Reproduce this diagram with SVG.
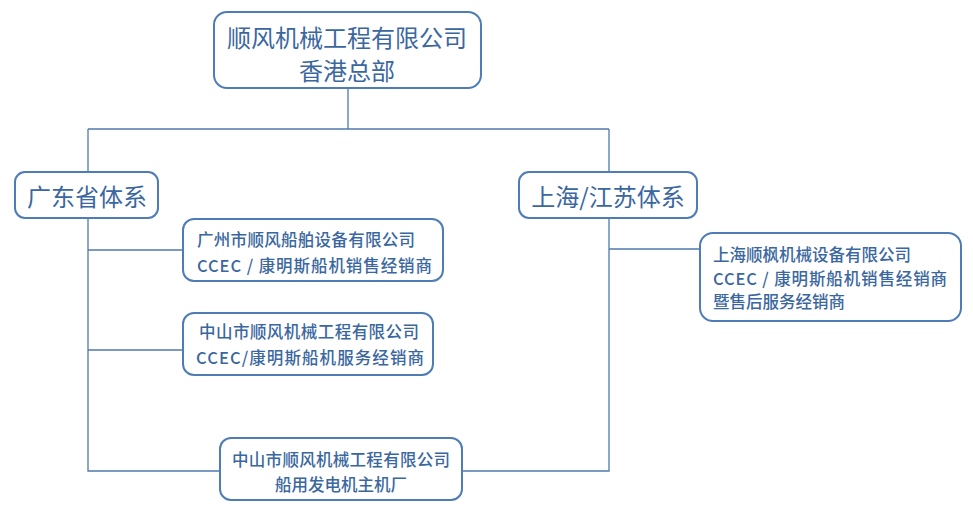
<svg xmlns="http://www.w3.org/2000/svg" width="973" height="514" viewBox="0 0 973 514">
<style>
.box{fill:#ffffff;stroke:#4e7cb6;stroke-width:2}
.ln{fill:none;stroke:#4f79ae;stroke-width:1.3}
text{font-family:"Noto Sans CJK SC","Microsoft YaHei",sans-serif;fill:#3a67a0;font-weight:500}
.big{font-size:24px;text-anchor:middle;font-weight:400}
.sm{font-size:16.5px}
</style>
<rect width="973" height="514" fill="#ffffff"/>
<g id="connectors">
<path class="ln" d="M348 88V129M88 129H609M88 129V172M88 218V471H220M609 129V172M609 218V471H462M88 250H183M88 350H183M609 249H700"/>
</g>
<g id="hq">
<rect class="box" x="214" y="12" width="267" height="76" rx="13"/>
<text class="big" x="347" y="47">顺风机械工程有限公司</text>
<text class="big" x="347" y="80">香港总部</text>
</g>
<g id="guangdong">
<rect class="box" x="15" y="172" width="143" height="46" rx="10"/>
<text class="big" x="87" y="206">广东省体系</text>
</g>
<g id="shanghai">
<rect class="box" x="519" y="172" width="178" height="46" rx="10"/>
<text class="big" x="608" y="206">上海/江苏体系</text>
</g>
<g id="guangzhou">
<rect class="box" x="183" y="219" width="260" height="62" rx="11"/>
<text class="sm" x="197" y="246" textLength="218" lengthAdjust="spacing">广州市顺风船舶设备有限公司</text>
<text class="sm" x="197" y="272" textLength="235" lengthAdjust="spacing">CCEC / 康明斯船机销售经销商</text>
</g>
<g id="zhongshan1">
<rect class="box" x="183" y="313" width="250" height="62" rx="11"/>
<text class="sm" x="199" y="338" textLength="220" lengthAdjust="spacing">中山市顺风机械工程有限公司</text>
<text class="sm" x="196" y="364" textLength="228" lengthAdjust="spacing">CCEC/康明斯船机服务经销商</text>
</g>
<g id="zhongshan2">
<rect class="box" x="220" y="438" width="242" height="62" rx="11"/>
<text class="sm" x="232" y="466" textLength="218" lengthAdjust="spacing">中山市顺风机械工程有限公司</text>
<text class="sm" x="341" y="491" style="text-anchor:middle">船用发电机主机厂</text>
</g>
<g id="shanghai-co">
<rect class="box" x="700" y="233" width="261" height="88" rx="13"/>
<text class="sm" x="713" y="261">上海顺枫机械设备有限公司</text>
<text class="sm" x="713" y="285" textLength="234" lengthAdjust="spacing">CCEC / 康明斯船机销售经销商</text>
<text class="sm" x="713" y="308">暨售后服务经销商</text>
</g>
</svg>
